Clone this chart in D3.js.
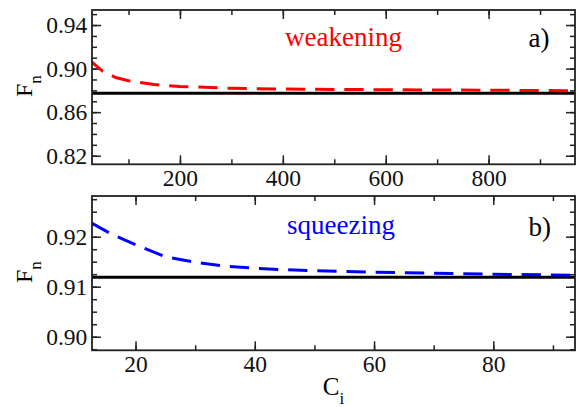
<!DOCTYPE html>
<html>
<head>
<meta charset="utf-8">
<script src="https://cdn.jsdelivr.net/npm/d3@7"></script>
<style>
  html, body { margin: 0; padding: 0; background: #fff; }
  svg { display: block; }
  svg text { font-family: 'Liberation Serif', 'Times New Roman', serif !important; }
</style>
</head>
<body>
<svg id="chart" width="576" height="407"></svg>
<script>
// ---- data ----
// panel a) weakening
const weakC      = [29, 50, 75, 100, 150, 200, 300, 400, 600, 800, 968];
const weakFn     = [0.9058, 0.8975, 0.8918, 0.8889, 0.8853, 0.8836, 0.8819, 0.8812, 0.8806, 0.8801, 0.8797];
const weakRefC   = [29, 968];
const weakRefFn  = [0.8773, 0.8773];
const weakXTicks = [200, 400, 600, 800];
const weakYTicks = [0.82, 0.86, 0.90, 0.94];

// panel b) squeezing
const sqzC      = [12.7, 16, 20, 25, 30, 35, 40, 45, 50, 60, 70, 80, 93.7];
const sqzFn     = [0.9227, 0.9205, 0.9184, 0.9160, 0.9149, 0.9141, 0.9137, 0.9134, 0.9132, 0.9129, 0.9127, 0.9125, 0.9123];
const sqzRefC   = [12.7, 93.7];
const sqzRefFn  = [0.9119, 0.9119];
const sqzXTicks = [20, 40, 60, 80];
const sqzYTicks = [0.90, 0.91, 0.92];

const svg = d3.select("#chart");
const L = 92, R = 575;
const FONT = "'Liberation Serif', 'Times New Roman', serif";

function panel(opt) {
  const x = d3.scaleLinear().domain(opt.xDomain).range([L, R]);
  const y = d3.scaleLinear().domain(opt.yDomain).range([opt.bottom, opt.top]);
  const g = svg.append("g");
  const id = "clip" + opt.name;
  svg.append("clipPath").attr("id", id).append("rect")
    .attr("x", L).attr("y", opt.top).attr("width", R - L).attr("height", opt.bottom - opt.top);

  const minorX = d3.range(Math.ceil(opt.xDomain[0] / opt.xMinor) * opt.xMinor, opt.xDomain[1], opt.xMinor);
  const minorY = d3.range(Math.ceil(opt.yDomain[0] / opt.yMinor - 1e-6), Math.floor(opt.yDomain[1] / opt.yMinor + 1e-6) + 1)
                   .map(k => +(k * opt.yMinor).toFixed(5));

  function styleAxis(sel) {
    sel.attr("font-family", null).style("font-family", FONT);
    sel.select(".domain").remove();
    sel.selectAll("line").attr("stroke", "#222").attr("stroke-width", 1.5);
    sel.selectAll("text").style("font-family", FONT).attr("font-size", "23.5px").attr("fill", "#111");
  }
  // minor ticks (all sides)
  g.append("g").attr("transform", `translate(0,${opt.bottom})`)
    .call(d3.axisBottom(x).tickValues(minorX).tickSize(-5).tickFormat("")).call(styleAxis);
  g.append("g").attr("transform", `translate(0,${opt.top})`)
    .call(d3.axisTop(x).tickValues(minorX).tickSize(-5).tickFormat("")).call(styleAxis);
  g.append("g").attr("transform", `translate(${L},0)`)
    .call(d3.axisLeft(y).tickValues(minorY).tickSize(-5).tickFormat("")).call(styleAxis);
  g.append("g").attr("transform", `translate(${R},0)`)
    .call(d3.axisRight(y).tickValues(minorY).tickSize(-5).tickFormat("")).call(styleAxis);
  // major ticks
  g.append("g").attr("transform", `translate(0,${opt.bottom})`)
    .call(d3.axisBottom(x).tickValues(opt.xTicks).tickSize(-9).tickPadding(4.7).tickFormat(d3.format("d"))).call(styleAxis);
  g.append("g").attr("transform", `translate(0,${opt.top})`)
    .call(d3.axisTop(x).tickValues(opt.xTicks).tickSize(-9).tickFormat("")).call(styleAxis);
  g.append("g").attr("transform", `translate(${L},0)`)
    .call(d3.axisLeft(y).tickValues(opt.yTicks).tickSize(-9).tickPadding(4.7).tickFormat(d3.format(".2f"))).call(styleAxis);
  g.append("g").attr("transform", `translate(${R},0)`)
    .call(d3.axisRight(y).tickValues(opt.yTicks).tickSize(-9).tickFormat("")).call(styleAxis);

  const line = d3.line().x(d => x(d[0])).y(d => y(d[1]));
  const plot = g.append("g").attr("clip-path", `url(#${id})`);
  plot.append("path").datum(d3.zip(opt.refX, opt.refY)).attr("d", line)
    .attr("fill", "none").attr("stroke", "#000").attr("stroke-width", 3);
  plot.append("path").datum(d3.zip(opt.cx, opt.cy)).attr("d", line)
    .attr("fill", "none").attr("stroke", opt.color).attr("stroke-width", 3)
    .attr("stroke-dasharray", "19.3,9.9").attr("stroke-dashoffset", opt.dashOffset);

  // frame
  g.append("rect").attr("x", L).attr("y", opt.top).attr("width", R - L).attr("height", opt.bottom - opt.top)
    .attr("fill", "none").attr("stroke", "#222").attr("stroke-width", 1.8);

  // texts
  g.append("text").attr("x", opt.labelX).attr("y", opt.labelY).attr("fill", opt.color)
    .style("font-family", FONT).attr("font-size", "27px").text(opt.label);
  g.append("text").attr("x", 528.5).attr("y", opt.tagY).attr("fill", "#000")
    .style("font-family", FONT).attr("font-size", "27px").text(opt.tag);

  const yl = g.append("text").attr("transform", `translate(31.5,${(opt.top + opt.bottom) / 2 - 1}) rotate(-90)`)
    .attr("text-anchor", "middle").style("font-family", FONT).attr("fill", "#000");
  yl.append("tspan").attr("font-size", "24px").text("F");
  yl.append("tspan").attr("font-size", "17px").attr("dy", 9.3).text("n");
  return {x, y};
}

panel({
  name: "a", top: 10, bottom: 164.3,
  xDomain: [29, 968], yDomain: [0.8121, 0.9538],
  xTicks: weakXTicks, yTicks: weakYTicks, xMinor: 100, yMinor: 0.01,
  cx: weakC, cy: weakFn, refX: weakRefC, refY: weakRefFn,
  color: "#ff0000", dashOffset: 5,
  label: "weakening", labelX: 285, labelY: 45.5, tag: "a)", tagY: 46.5
});

panel({
  name: "b", top: 196, bottom: 350.3,
  xDomain: [12.7, 93.7], yDomain: [0.89728, 0.92814],
  xTicks: sqzXTicks, yTicks: sqzYTicks, xMinor: 10, yMinor: 0.0025,
  cx: sqzC, cy: sqzFn, refX: sqzRefC, refY: sqzRefFn,
  color: "#0000ff", dashOffset: 0,
  label: "squeezing", labelX: 287, labelY: 233.5, tag: "b)", tagY: 235.5
});

// x axis title
const xl = svg.append("text").attr("x", 333.5).attr("y", 394.5)
  .attr("text-anchor", "middle").style("font-family", FONT).attr("fill", "#000");
xl.append("tspan").attr("font-size", "25px").text("C");
xl.append("tspan").attr("font-size", "17px").attr("dy", 9).text("i");
</script>
</body>
</html>
